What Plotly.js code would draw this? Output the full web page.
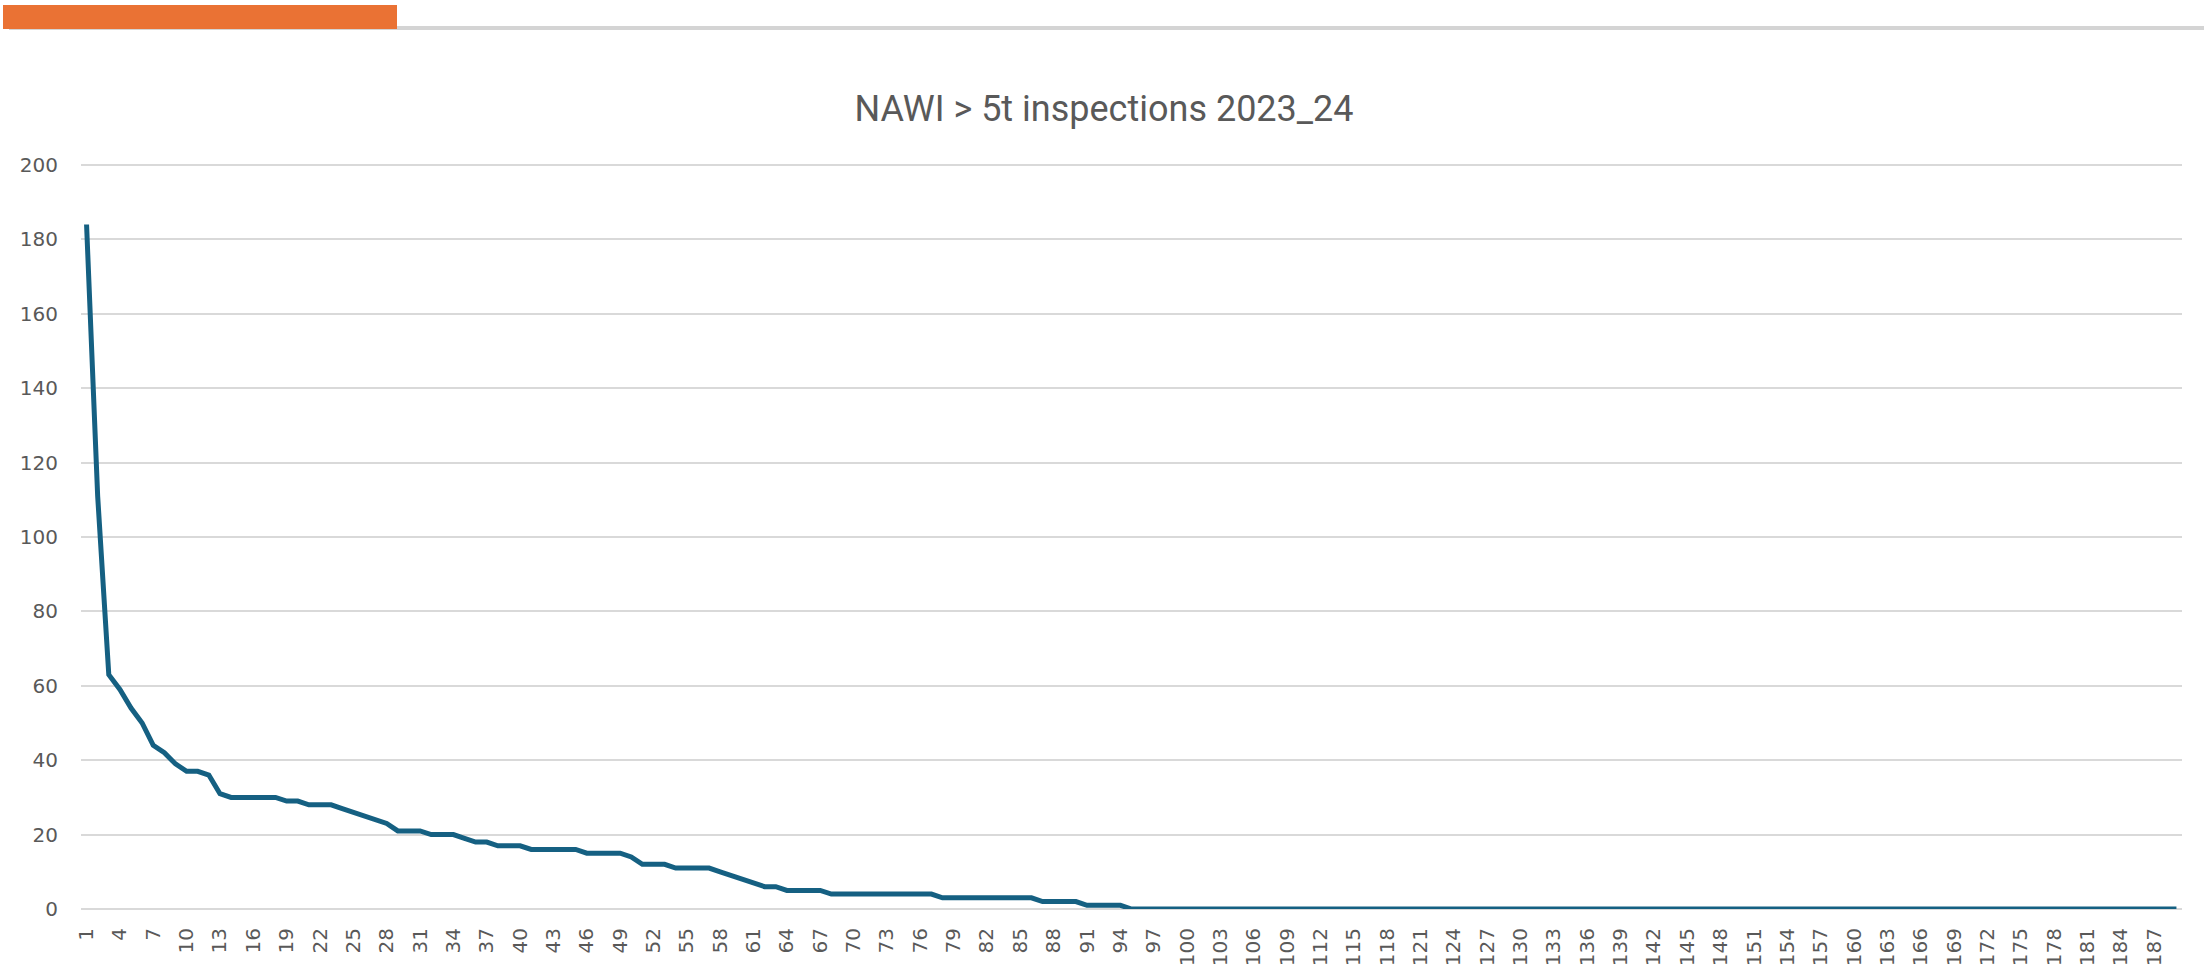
<!DOCTYPE html>
<html>
<head>
<meta charset="utf-8">
<script src="https://cdn.plot.ly/plotly-3.0.1.min.js"></script>
<style>
  html, body { margin: 0; padding: 0; background: #ffffff; }
  #wrap { position: relative; width: 2208px; height: 964px; overflow: hidden; }
  #chart { position: absolute; left: 0; top: 0; width: 2208px; height: 964px; }
  #barOrange { position: absolute; left: 3px; top: 5px; width: 394px; height: 24px; background: #ea7234; z-index: 2; }
  #barGrey { position: absolute; left: 9px; top: 26px; width: 2195px; height: 4px; background: #d4d4d4; z-index: 1; }
</style>
</head>
<body>
<div id="wrap">
  <div id="chart"></div>
  <div id="barGrey"></div>
  <div id="barOrange"></div>
</div>
<script>
// Inspections per site (sorted descending), NAWI > 5t, 2023_24
const inspections = [
  184, 111, 63, 59, 54, 50, 44, 42, 39, 37,
  37, 36, 31, 30, 30, 30, 30, 30, 29, 29,
  28, 28, 28, 27, 26, 25, 24, 23, 21, 21,
  21, 20, 20, 20, 19, 18, 18, 17, 17, 17,
  16, 16, 16, 16, 16, 15, 15, 15, 15, 14,
  12, 12, 12, 11, 11, 11, 11, 10, 9, 8,
  7, 6, 6, 5, 5, 5, 5, 4, 4, 4,
  4, 4, 4, 4, 4, 4, 4, 3, 3, 3,
  3, 3, 3, 3, 3, 3, 2, 2, 2, 2,
  1, 1, 1, 1, 0, 0, 0, 0, 0, 0,
  0, 0, 0, 0, 0, 0, 0, 0, 0, 0,
  0, 0, 0, 0, 0, 0, 0, 0, 0, 0,
  0, 0, 0, 0, 0, 0, 0, 0, 0, 0,
  0, 0, 0, 0, 0, 0, 0, 0, 0, 0,
  0, 0, 0, 0, 0, 0, 0, 0, 0, 0,
  0, 0, 0, 0, 0, 0, 0, 0, 0, 0,
  0, 0, 0, 0, 0, 0, 0, 0, 0, 0,
  0, 0, 0, 0, 0, 0, 0, 0, 0, 0,
  0, 0, 0, 0, 0, 0, 0, 0, 0
];
// Category labels 1..N (one per data point)
const categories = inspections.map((_, i) => String(i + 1));
// Excel shows every third category label
const tickLabels = categories.filter((_, i) => i % 3 === 0);
const yTicks = [0, 20, 40, 60, 80, 100, 120, 140, 160, 180, 200];

const chartTitle = 'NAWI > 5t inspections 2023_24';

const trace = {
  type: 'scatter',
  mode: 'lines',
  x: categories,
  y: inspections,
  line: { color: '#156082', width: 5 },
  hoverinfo: 'skip'
};

const tickFont = { family: '"DejaVu Sans", "Liberation Sans", sans-serif', size: 20, color: '#595959' };

const layout = {
  width: 2208,
  height: 964,
  paper_bgcolor: '#ffffff',
  plot_bgcolor: '#ffffff',
  margin: { l: 81, r: 26, t: 162, b: 55, pad: 0 },
  showlegend: false,
  title: {
    text: chartTitle,
    font: { family: 'Roboto, "Liberation Sans", sans-serif', size: 36, color: '#595959' },
    xref: 'container', x: 0.5, xanchor: 'center',
    yref: 'container', y: 1 - 108 / 964, yanchor: 'middle'
  },
  xaxis: {
    type: 'category',
    range: [-0.5, categories.length - 0.5],
    tickmode: 'array',
    tickvals: tickLabels,
    ticktext: tickLabels,
    tickangle: -90,
    tickfont: tickFont,
    ticks: '',
    ticklabelstandoff: 14,
    showgrid: false,
    showline: false,
    zeroline: false,
    fixedrange: true
  },
  yaxis: {
    range: [0, 200.8],
    tickmode: 'array',
    tickvals: yTicks,
    ticktext: yTicks.map(String),
    tickfont: tickFont,
    ticks: '',
    ticklabelstandoff: 22,
    showgrid: true,
    gridcolor: '#d9d9d9',
    gridwidth: 2,
    zeroline: true,
    zerolinecolor: '#d9d9d9',
    zerolinewidth: 2,
    showline: false,
    fixedrange: true
  }
};

Plotly.newPlot('chart', [trace], layout, { staticPlot: true, displayModeBar: false });
</script>
</body>
</html>
